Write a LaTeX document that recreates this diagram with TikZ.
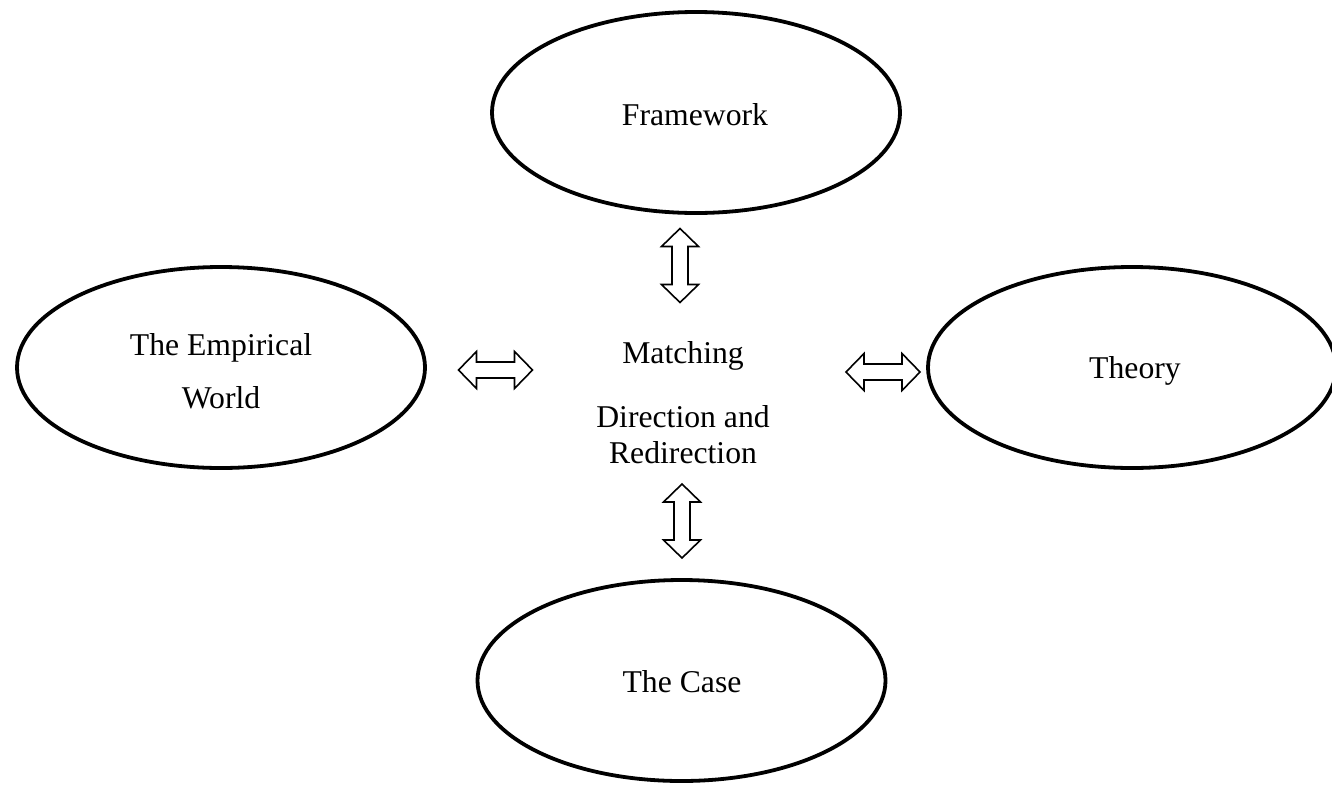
\documentclass[tikz,border=0pt]{standalone}
\usepackage{fontspec}
\setmainfont{Liberation Serif}
\usetikzlibrary{shapes.geometric}
\tikzset{
  oval/.style={ellipse, draw=black, line width=3.8pt, minimum width=408pt, minimum height=201pt, inner sep=0pt},
  lbl/.style={anchor=base, inner sep=0pt, font=\fontsize{31.7}{36.5}\selectfont},
  arrowline/.style={draw=black, line width=1.6pt, fill=white, line join=miter},
  dbl/.pic={\path[arrowline] (-37,0) -- (-19,-18.5) -- (-19,-8) -- (19,-8) -- (19,-18.5) -- (37,0) -- (19,18.5) -- (19,8) -- (-19,8) -- (-19,18.5) -- cycle;}
}
\begin{document}
\begin{tikzpicture}[x={(1pt,0)}, y={(0,-1pt)}]
\path[use as bounding box, fill=white] (0,0) rectangle (1332,785);
% ellipses
\node[oval] (frame) at (696,112.5) {};
\node[oval] (emp) at (221,367.5) {};
\node[oval] (theory) at (1132,367.5) {};
\node[oval] (case) at (681.5,680.5) {};
% labels
\node[lbl] (framelbl) at (695,125) {Framework};
\node[lbl] (emplbla) at (221,355) {The Empirical};
\node[lbl] (emplblb) at (221,408) {World};
\node[lbl] (theorylbl) at (1135,378) {Theory};
\node[lbl] (caselbl) at (682,692) {The Case};
\node[lbl] (m1) at (683,363) {Matching};
\node[lbl] (m2) at (683,427) {Direction and};
\node[lbl] (m3) at (683,463) {Redirection};
% double arrows
\pic[rotate=90] (aup) at (680,265.5) {dbl};
\pic[rotate=90] (adown) at (682,521) {dbl};
\pic (aleft) at (495.5,370) {dbl};
\pic (aright) at (883,372) {dbl};
\end{tikzpicture}
\end{document}
